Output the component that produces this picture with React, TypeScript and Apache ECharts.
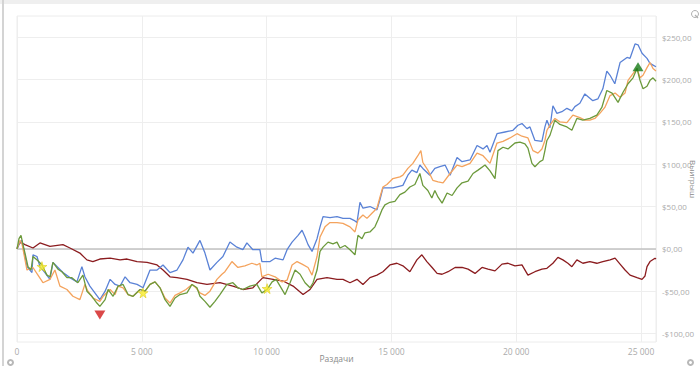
import React, { useEffect, useRef } from "react";
import * as echarts from "echarts";

// Hands (x) and winnings in $ (y)
const blueSeries: number[][] = [
  [0,0],[120,8],[200,10],[400,-21],[600,-28],[640,-7],[800,-9],[920,-21],[1120,-28],[1320,-36],
  [1440,-16],[1640,-22],[1840,-28],[2120,-34],[2400,-39],[2600,-21],[2720,-33],[2920,-44],[3120,-52],[3320,-60],
  [3530,-50],[3730,-36],[3930,-42],[4130,-44],[4330,-33],[4530,-40],[4810,-42],[5050,-46],[5330,-25],[5610,-25],
  [5850,-19],[6130,-28],[6410,-25],[6650,-13],[6850,2],[7050,-5],[7330,10],[7530,-5],[7730,-25],[8010,-16],
  [8250,-9],[8530,8],[8810,2],[9050,-1],[9210,7],[9450,-1],[9730,-1],[9810,-15],[10140,-15],[10340,-11],
  [10660,-13],[10820,-1],[11020,8],[11260,16],[11420,22],[11540,14],[11660,5],[11820,-3],[12020,12],[12140,26],
  [12260,38],[12540,37],[12820,38],[13060,36],[13340,36],[13540,33],[13620,31],[13740,55],[13860,48],[14140,50],
  [14420,46],[14540,58],[14660,72],[15060,72],[15460,75],[15660,87],[15820,93],[16020,90],[16140,99],[16260,95],
  [16540,87],[16740,95],[16940,97],[17150,99],[17350,87],[17630,108],[17830,103],[18150,105],[18430,122],[18670,118],
  [18830,122],[18950,114],[19230,136],[19550,138],[19870,140],[20070,146],[20230,148],[20430,142],[20550,144],[20750,128],
  [21030,127],[21150,144],[21230,152],[21350,143],[21470,169],[21630,160],[21830,162],[22030,166],[22230,163],[22350,168],
  [22550,172],[22750,183],[22950,178],[23070,175],[23270,177],[23470,189],[23630,210],[23760,205],[23950,195],[24160,220],
  [24440,226],[24560,225],[24760,242],[24880,241],[25040,231],[25240,225],[25360,219],[25480,217],[25600,215],
];

const orangeSeries: number[][] = [
  [0,0],[120,10],[200,6],[400,-25],[640,-22],[840,-31],[1040,-40],[1320,-36],[1520,-25],[1720,-44],
  [2000,-48],[2240,-56],[2520,-60],[2720,-42],[2840,-50],[3040,-58],[3320,-62],[3450,-56],[3730,-48],[3930,-54],
  [4050,-44],[4250,-46],[4450,-54],[4650,-56],[4930,-48],[5130,-50],[5330,-42],[5530,-39],[5730,-46],[5930,-58],
  [6130,-64],[6330,-55],[6530,-52],[6770,-48],[7010,-42],[7170,-46],[7330,-52],[7530,-55],[7730,-50],[8010,-36],
  [8210,-30],[8330,-27],[8610,-15],[8850,-22],[9130,-20],[9410,-17],[9610,-19],[9730,-17],[9810,-33],[10060,-30],
  [10340,-33],[10620,-39],[10820,-37],[11020,-19],[11220,-15],[11420,-18],[11660,-22],[11820,-31],[12020,-9],[12140,14],
  [12340,26],[12540,31],[12820,31],[13060,30],[13340,26],[13540,20],[13660,34],[13860,40],[14020,36],[14220,42],
  [14420,48],[14540,61],[14660,73],[14820,76],[15060,83],[15340,85],[15460,87],[15660,95],[15860,101],[16060,110],
  [16180,116],[16260,102],[16460,93],[16660,81],[16870,79],[17070,78],[17350,89],[17630,99],[17830,97],[18150,101],
  [18430,113],[18670,110],[18950,101],[19230,125],[19470,127],[19750,131],[20030,136],[20230,133],[20470,131],[20670,116],
  [20870,113],[21030,118],[21150,128],[21230,140],[21350,146],[21550,154],[21750,150],[22030,149],[22270,158],[22550,155],
  [22750,152],[22950,152],[23150,154],[23350,160],[23550,167],[23760,181],[23960,184],[24160,179],[24360,184],[24480,199],
  [24680,207],[24840,213],[24960,202],[25080,205],[25240,214],[25360,220],[25480,213],[25600,210],
];

const greenSeries: number[][] = [
  [0,0],[80,12],[160,16],[240,5],[320,-5],[440,-21],[560,-25],[640,-9],[840,-14],[1000,-19],
  [1200,-31],[1320,-33],[1440,-16],[1640,-24],[1800,-27],[2000,-34],[2200,-34],[2440,-40],[2640,-31],[2800,-50],
  [3000,-56],[3200,-64],[3320,-68],[3530,-60],[3650,-48],[3850,-56],[4050,-44],[4250,-42],[4450,-54],[4650,-56],
  [4930,-48],[5130,-50],[5330,-42],[5530,-39],[5730,-46],[5930,-60],[6130,-68],[6330,-58],[6530,-54],[6810,-52],
  [7010,-42],[7210,-46],[7330,-56],[7530,-62],[7730,-69],[7930,-62],[8130,-54],[8410,-42],[8650,-40],[8850,-46],
  [9050,-48],[9330,-44],[9610,-42],[9810,-52],[10020,-48],[10220,-39],[10380,-36],[10540,-44],[10740,-54],[10940,-40],
  [11140,-25],[11340,-30],[11540,-40],[11740,-46],[11860,-40],[12020,-25],[12140,-3],[12260,2],[12460,8],[12660,6],
  [12820,8],[12940,1],[13140,4],[13340,-1],[13540,-7],[13660,16],[13820,12],[13940,19],[14140,20],[14340,26],
  [14460,34],[14620,46],[14740,52],[14940,55],[15140,56],[15340,64],[15540,67],[15740,73],[15940,76],[16140,89],
  [16260,75],[16460,69],[16620,60],[16740,69],[16870,61],[17030,54],[17230,66],[17430,63],[17630,72],[17830,78],
  [18070,80],[18270,89],[18470,93],[18750,99],[18950,92],[19150,83],[19270,116],[19470,120],[19670,118],[19950,125],
  [20150,126],[20350,124],[20470,119],[20630,101],[20750,97],[20950,103],[21070,105],[21150,116],[21230,128],[21350,134],
  [21550,152],[21750,147],[22030,144],[22230,140],[22430,154],[22670,152],[22950,154],[23230,158],[23430,167],[23630,187],
  [23840,184],[24080,173],[24280,185],[24480,195],[24680,202],[24840,213],[24960,199],[25080,189],[25240,192],[25360,199],
  [25480,202],[25600,198],
];

const redSeries: number[][] = [
  [0,0],[120,8],[320,5],[640,1],[920,7],[1320,3],[1840,5],[2120,1],[2520,-5],[2800,-13],
  [3040,-15],[3320,-12],[3730,-11],[4130,-13],[4410,-12],[4810,-15],[5210,-16],[5610,-19],[5850,-25],[6130,-33],
  [6410,-34],[6810,-36],[7210,-40],[7610,-42],[8130,-40],[8650,-44],[9050,-48],[9450,-46],[9850,-34],[10260,-36],
  [10660,-38],[11060,-44],[11460,-54],[11740,-48],[12020,-36],[12420,-34],[12820,-36],[13060,-36],[13340,-40],[13620,-36],
  [13860,-42],[14140,-34],[14420,-31],[14660,-27],[14940,-19],[15220,-17],[15460,-20],[15740,-27],[16020,-13],[16220,-7],
  [16420,-15],[16630,-22],[16830,-29],[17030,-30],[17270,-27],[17550,-22],[17830,-22],[18070,-24],[18350,-29],[18630,-22],
  [18870,-24],[19150,-26],[19430,-18],[19670,-17],[19950,-20],[20230,-19],[20470,-31],[20750,-27],[21030,-24],[21230,-23],
  [21470,-17],[21670,-10],[21870,-13],[22070,-17],[22230,-21],[22430,-13],[22670,-17],[22950,-15],[23230,-17],[23470,-15],
  [23760,-13],[23960,-11],[24160,-18],[24360,-25],[24560,-31],[24840,-34],[25040,-36],[25160,-32],[25240,-21],[25360,-15],
  [25560,-11],[25600,-12],
];

const starPoints: number[][] = [[1000, -21], [5050, -52], [10020, -47]];
const maxPoint: number[][] = [[24880, 215]];
const minPoint: number[][] = [[3320, -78]];

const yTicks: number[] = [-100, -50, 0, 50, 100, 150, 200, 250];
const xMax = 25600;
const yMin = -110;
const yMax = 275;

const STAR = "path://M50,0 L61,35 L98,35 L68,57 L79,91 L50,70 L21,91 L32,57 L2,35 L39,35 Z";

function fmtX(v: number): string {
  if (v >= 1000) {
    const t = Math.floor(v / 1000);
    const r = String(v % 1000).padStart(3, "0");
    return t + " " + r;
  }
  return String(v);
}
function fmtY(v: number): string {
  return (v < 0 ? "-$" : "$") + Math.abs(v) + ",00";
}

export default function App() {
  const ref = useRef<HTMLDivElement>(null);
  useEffect(() => {
    if (!ref.current) return;
    const chart = echarts.init(ref.current, null, { renderer: "svg" });
    const font = "'Open Sans', 'Noto Sans', sans-serif";
    const lineSeries = (name: string, data: number[][], color: string) => ({
      name,
      type: "line",
      data,
      showSymbol: false,
      symbol: "none",
      lineStyle: { color, width: 1.3 },
      itemStyle: { color },
      z: 3,
    });
    chart.setOption({
      animation: false,
      backgroundColor: "#ffffff",
      textStyle: { fontFamily: font },
      grid: {
        left: 17, right: 44, top: 16, bottom: 24,
        show: true, borderColor: "#ececec", borderWidth: 1,
        containLabel: false, outerBoundsMode: "none",
      },
      xAxis: {
        type: "value",
        min: 0,
        max: xMax,
        interval: 5000,
        axisLine: { show: false },
        axisTick: { show: false },
        splitLine: { lineStyle: { color: "#eeeeee", width: 1 } },
        axisLabel: { color: "#ababab", fontSize: 8.5, margin: 5, showMaxLabel: false, formatter: fmtX, fontFamily: font },
        name: "Раздачи",
        nameLocation: "middle",
        nameGap: 12,
        nameMoveOverlap: false,
        nameTextStyle: { color: "#8a8a8a", fontSize: 8.5, fontFamily: font },
      },
      yAxis: {
        type: "value",
        position: "right",
        min: yMin,
        max: yMax,
        axisLine: { show: false },
        axisTick: { show: false, customValues: yTicks },
        splitLine: { lineStyle: { color: "#eeeeee", width: 1 } },
        axisLabel: { customValues: yTicks, color: "#ababab", fontSize: 8, margin: 6, formatter: fmtY, fontFamily: font },
        name: "Выигрыш",
        nameLocation: "middle",
        nameRotate: -90,
        nameGap: 33,
        nameMoveOverlap: false,
        nameTextStyle: { color: "#8a8a8a", fontSize: 8, fontFamily: font },
      },
      series: [
        {
          ...lineSeries("red", redSeries, "#8b1c1f"),
          markLine: {
            silent: true,
            symbol: "none",
            label: { show: false },
            lineStyle: { color: "#c2c2c2", width: 1.5, type: "solid" },
            data: [{ yAxis: 0 }],
            z: 2,
          },
        },
        lineSeries("blue", blueSeries, "#5a82d6"),
        lineSeries("orange", orangeSeries, "#f4a35d"),
        lineSeries("green", greenSeries, "#6c9a3c"),
        {
          type: "scatter",
          data: starPoints,
          symbol: STAR,
          symbolSize: 10,
          itemStyle: { color: "#f7ec2a", borderColor: "#d6c400", borderWidth: 0.6 },
          z: 5,
        },
        {
          type: "scatter",
          data: maxPoint,
          symbol: "triangle",
          symbolSize: [11, 9],
          itemStyle: { color: "#177a17" },
          z: 6,
        },
        {
          type: "scatter",
          data: minPoint,
          symbol: "triangle",
          symbolRotate: 180,
          symbolSize: [11, 9],
          itemStyle: { color: "#d11a1a" },
          z: 6,
        },
      ],
      graphic: [
        { type: "rect", left: 0, top: 0, shape: { width: 700, height: 4 }, style: { fill: "#efefef" }, silent: true },
        { type: "rect", left: 2, top: 0, shape: { width: 2, height: 366 }, style: { fill: "#d4d4d4" }, silent: true },
        { type: "circle", left: 689, top: 8, shape: { r: 3.5 }, style: { fill: "none", stroke: "#b0b0b0", lineWidth: 1 }, silent: true },
        { type: "line", shape: { x1: 695, y1: 15, x2: 698, y2: 18 }, style: { stroke: "#b0b0b0", lineWidth: 1.2 }, silent: true },
        { type: "ring", left: 7, top: 359, shape: { r: 3.5, r0: 1.5 }, style: { fill: "#b8b8b8" }, silent: true },
        { type: "ring", left: 687, top: 359, shape: { r: 3.5, r0: 1.5 }, style: { fill: "#b8b8b8" }, silent: true },
      ],
    });
    return () => chart.dispose();
  }, []);
  return (
    <div
      ref={ref}
      style={{ position: "fixed", left: 0, top: 0, width: 700, height: 366, background: "#fff" }}
    />
  );
}
